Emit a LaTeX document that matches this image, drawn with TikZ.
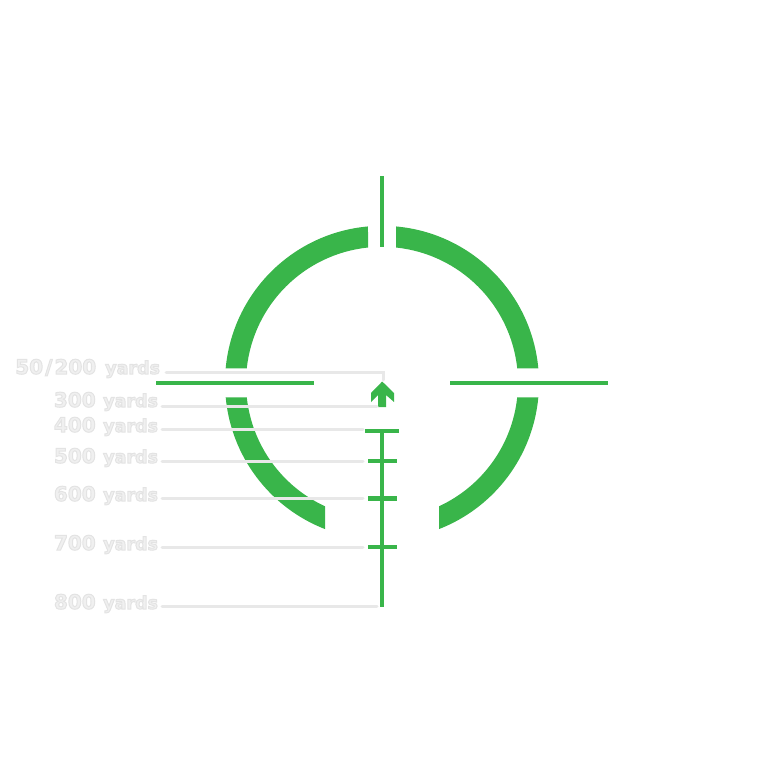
\documentclass[tikz,border=0pt]{standalone}
\usepackage{fontspec}
\setmainfont{DejaVu Sans}
\definecolor{scopegreen}{HTML}{39B54A}
\definecolor{leadergrey}{HTML}{E8E8E8}
\newcommand{\outlined}[2]{\special{pdf:code 2 Tr 1 w 0.89 G}\fontsize{20}{22}\selectfont #1\kern 7.5pt\fontsize{17.5}{20}\selectfont #2\special{pdf:code 0 Tr}}
\tikzset{
  ringpart/.style={fill=scopegreen,draw=none},
  hair/.style={draw=scopegreen,line width=4pt},
  tickmark/.style={draw=scopegreen,line width=4.6pt},
  leader/.style={draw=leadergrey,line width=3pt,line cap=round},
  yardlabel/.style={inner sep=0pt,outer sep=0pt,anchor=base east,text=black!6,font=\bfseries},
}
\begin{document}
\begin{tikzpicture}[x=1pt,y=1pt,yscale=-1]
\useasboundingbox (0,0) rectangle (765,765);
% ring
\begin{scope}[shift={(382,382.8)}]
\fill[ringpart] (185.30:157pt) arc[start angle=185.30,end angle=264.88,radius=157pt] -- (264.09:136pt) arc[start angle=264.09,end angle=186.12,radius=136pt] -- cycle;
\fill[ringpart] (275.12:157pt) arc[start angle=275.12,end angle=354.70,radius=157pt] -- (353.88:136pt) arc[start angle=353.88,end angle=275.91,radius=136pt] -- cycle;
\fill[ringpart] (5.30:157pt) arc[start angle=5.30,end angle=68.71,radius=157pt] -- (65.22:136pt) arc[start angle=65.22,end angle=6.12,radius=136pt] -- cycle;
\fill[ringpart] (111.29:157pt) arc[start angle=111.29,end angle=174.70,radius=157pt] -- (173.88:136pt) arc[start angle=173.88,end angle=114.78,radius=136pt] -- cycle;
\end{scope}
% crosshair
\coordinate (hlA) at (156,382.8); \coordinate (hlB) at (314,382.8);
\coordinate (hrA) at (450,382.8); \coordinate (hrB) at (608,382.8);
\coordinate (vtA) at (382,176);   \coordinate (vtB) at (382,247);
\coordinate (vbA) at (382,429);   \coordinate (vbB) at (382,607.3);
\draw[hair] (hlA) -- (hlB);
\draw[hair] (hrA) -- (hrB);
\draw[hair,line width=4.4pt] (vtA) -- (vtB);
\draw[hair,line width=4.4pt] (vbA) -- (vbB);
% ticks
\coordinate (t4a) at (365,431); \coordinate (t4b) at (399,431);
\coordinate (t5a) at (368,461); \coordinate (t5b) at (396.7,461);
\coordinate (t6a) at (368,498.5); \coordinate (t6b) at (396.7,498.5);
\coordinate (t7a) at (368,547); \coordinate (t7b) at (396.7,547);
\draw[tickmark] (t4a) -- (t4b);
\draw[tickmark] (t5a) -- (t5b);
\draw[tickmark] (t6a) -- (t6b);
\draw[tickmark] (t7a) -- (t7b);
% arrow
\fill[scopegreen] (382.2,381.5) -- (394,393) -- (394,402) -- (386,395) -- (386,407) -- (378,407) -- (378,395) -- (371,402) -- (371,393) -- cycle;
% labels
\node[yardlabel] (l50) at (160,374) {\outlined{50\kern2pt/\kern2pt200\kern1.5pt}{yards}};
\node[yardlabel] (l300) at (158,407) {\outlined{300}{yards}};
\node[yardlabel] (l400) at (158,432) {\outlined{400}{yards}};
\node[yardlabel] (l500) at (158,463) {\outlined{500}{yards}};
\node[yardlabel] (l600) at (158,501) {\outlined{600}{yards}};
\node[yardlabel] (l700) at (158,550) {\outlined{700}{yards}};
\node[yardlabel] (l800) at (158,609) {\outlined{800}{yards}};
% leaders
\coordinate (s50) at (166,372); \coordinate (c50) at (383,372); \coordinate (e50) at (383,380);
\coordinate (s300) at (162,406); \coordinate (e300) at (377,406);
\coordinate (s400) at (162,429.5); \coordinate (e400) at (363,429.5);
\coordinate (s500) at (162,461); \coordinate (e500) at (363,461);
\coordinate (s600) at (162,498.5); \coordinate (e600) at (363,498.5);
\coordinate (s700) at (162,547); \coordinate (e700) at (363,547);
\coordinate (s800) at (162,606); \coordinate (e800) at (377,606);
\draw[leader] (s50) -- (c50) -- (e50);
\draw[leader] (s300) -- (e300);
\draw[leader] (s400) -- (e400);
\draw[leader] (s500) -- (e500);
\draw[leader] (s600) -- (e600);
\draw[leader] (s700) -- (e700);
\draw[leader] (s800) -- (e800);
\end{tikzpicture}
\end{document}
